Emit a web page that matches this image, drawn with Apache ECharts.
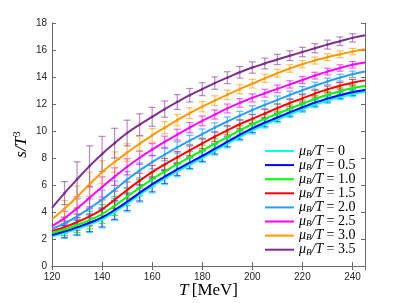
<!DOCTYPE html>
<html><head><meta charset="utf-8">
<script src="https://cdn.jsdelivr.net/npm/echarts@6/dist/echarts.min.js"></script>
<style>html,body{margin:0;padding:0;background:#fff}#c{width:403px;height:303px}</style>
</head><body><div id="c"></div>
<script>
// Temperature grid (MeV) for the fitted curves
const temps = [120,125,130,135,140,145,150,155,160,165,170,175,180,185,190,195,200,205,210,215,220,225,230,235,240,245];
// s/T^3 curves for mu_B/T = 0 ... 3.5
const mu00 = [2.25,2.50,2.80,3.13,3.52,4.07,4.67,5.33,5.96,6.53,7.06,7.56,8.06,8.59,9.10,9.62,10.10,10.52,10.90,11.28,11.65,12.00,12.30,12.56,12.78,12.95];
const mu05 = [2.30,2.55,2.86,3.20,3.60,4.15,4.76,5.42,6.05,6.62,7.15,7.65,8.15,8.68,9.20,9.72,10.20,10.62,11.00,11.38,11.75,12.10,12.40,12.65,12.87,13.04];
const mu10 = [2.45,2.70,3.04,3.40,3.85,4.45,5.13,5.80,6.42,7.00,7.55,8.05,8.55,9.05,9.55,10.05,10.50,10.90,11.28,11.65,12.02,12.37,12.68,12.95,13.18,13.33];
const mu15 = [2.60,2.88,3.25,3.68,4.20,4.90,5.63,6.32,6.95,7.52,8.05,8.57,9.08,9.58,10.05,10.50,10.90,11.30,11.70,12.07,12.42,12.77,13.08,13.35,13.58,13.75];
const mu20 = [2.75,3.15,3.68,4.28,4.92,5.65,6.40,7.08,7.70,8.25,8.78,9.28,9.77,10.25,10.70,11.13,11.55,11.93,12.30,12.67,13.02,13.35,13.67,13.95,14.20,14.40];
const mu25 = [2.95,3.55,4.27,5.05,5.85,6.62,7.35,8.02,8.62,9.20,9.73,10.25,10.75,11.22,11.67,12.08,12.45,12.80,13.12,13.45,13.78,14.10,14.40,14.67,14.90,15.07];
const mu30 = [3.46,4.25,5.13,6.05,6.95,7.70,8.40,9.05,9.68,10.25,10.80,11.32,11.80,12.25,12.68,13.10,13.50,13.90,14.28,14.63,14.95,15.22,15.47,15.68,15.88,16.05];
const mu35 = [4.30,5.40,6.42,7.40,8.30,9.10,9.85,10.47,11.05,11.62,12.15,12.65,13.10,13.55,13.95,14.35,14.70,15.00,15.30,15.58,15.85,16.13,16.40,16.65,16.90,17.10];
// Error bar temperatures and half-widths
const errT = [125,130,135,140,145,150,155,160,165,170,175,180,185,190,195,200,205,210,215,220,225,230,235,240];
const err00 = [0.45,0.55,0.65,0.70,0.70,0.65,0.60,0.55,0.50,0.45,0.42,0.40,0.38,0.36,0.34,0.32,0.30,0.29,0.28,0.27,0.26,0.25,0.25,0.24];
const err05 = [0.45,0.55,0.65,0.70,0.70,0.65,0.60,0.55,0.50,0.45,0.42,0.40,0.38,0.36,0.34,0.32,0.30,0.29,0.28,0.27,0.26,0.25,0.25,0.24];
const err10 = [0.45,0.55,0.65,0.70,0.70,0.65,0.60,0.55,0.50,0.45,0.42,0.40,0.38,0.36,0.34,0.32,0.30,0.29,0.28,0.27,0.26,0.25,0.25,0.24];
const err15 = [0.45,0.60,0.70,0.70,0.65,0.60,0.55,0.50,0.45,0.42,0.40,0.38,0.36,0.34,0.33,0.32,0.30,0.29,0.28,0.27,0.26,0.25,0.25,0.24];
const err20 = [0.45,0.60,0.70,0.70,0.65,0.60,0.55,0.50,0.45,0.42,0.40,0.38,0.36,0.34,0.33,0.32,0.30,0.29,0.28,0.27,0.26,0.25,0.25,0.24];
const err25 = [0.50,0.70,0.80,0.75,0.65,0.60,0.50,0.45,0.42,0.40,0.38,0.36,0.34,0.33,0.32,0.30,0.29,0.28,0.27,0.26,0.25,0.25,0.24,0.24];
const err30 = [0.60,0.80,0.90,0.85,0.75,0.65,0.55,0.50,0.45,0.42,0.40,0.38,0.36,0.35,0.33,0.32,0.30,0.29,0.28,0.27,0.26,0.25,0.25,0.24];
const err35 = [0.85,1.30,1.50,1.30,1.10,0.95,0.80,0.70,0.60,0.55,0.50,0.48,0.46,0.44,0.43,0.42,0.40,0.38,0.36,0.35,0.34,0.33,0.32,0.31];
const muLabels = ['0','0.5','1.0','1.5','2.0','2.5','3.0','3.5'];
const xTicks = [120,140,160,180,200,220,240];

const curves = [mu00,mu05,mu10,mu15,mu20,mu25,mu30,mu35];
const errs = [err00,err05,err10,err15,err20,err25,err30,err35];
const colors = ['#00FFFF','#0000FF','#00FF00','#FF0000','#2A9DF4','#FF00FF','#FF9900','#7E2F8E'];
const barColors = ['rgba(0,235,255,0.75)','rgba(40,40,255,0.7)','rgba(0,220,0,0.7)','rgba(255,0,0,0.65)','rgba(42,157,244,0.7)','rgba(255,0,255,0.6)','rgba(255,153,0,0.6)','rgba(126,47,142,0.55)'];
const widths = [3.4,2,2,2,2,2,2,2];

const series = [];
curves.forEach((c, k) => {
  const data = errT.map((t, i) => [t, c[temps.indexOf(t)], errs[k][i]]);
  series.push({
    type: 'custom', name: 'err' + k, z: 1, silent: true,
    data: data,
    renderItem: (params, api) => {
      const x = api.value(0), y = api.value(1), e = api.value(2);
      const top = api.coord([x, y + e]), bot = api.coord([x, y - e]), mid = api.coord([x, y]);
      const w = 3.5, col = barColors[k];
      return {type: 'group', children: [
        {type: 'line', shape: {x1: top[0], y1: top[1], x2: bot[0], y2: bot[1]}, style: {stroke: col, lineWidth: 1.2}},
        {type: 'line', shape: {x1: top[0] - w, y1: top[1], x2: top[0] + w, y2: top[1]}, style: {stroke: col, lineWidth: 1.2}},
        {type: 'line', shape: {x1: bot[0] - w, y1: bot[1], x2: bot[0] + w, y2: bot[1]}, style: {stroke: col, lineWidth: 1.2}},
        {type: 'circle', shape: {cx: mid[0], cy: mid[1], r: 1.3}, style: {fill: colors[k]}}
      ]};
    }
  });
});
curves.forEach((c, k) => {
  series.push({
    type: 'line', name: muLabels[k], z: 2, smooth: true, showSymbol: false, silent: true,
    data: temps.map((t, i) => [t, c[i]]),
    lineStyle: {color: colors[k], width: widths[k]},
    itemStyle: {color: colors[k]}
  });
});

const axisCol = '#6a6a6a';
const chart = echarts.init(document.getElementById('c'), null, {renderer: 'canvas'});
chart.setOption({
  animation: false,
  backgroundColor: '#fff',
  grid: {left: 52, right: 38, top: 23, bottom: 37, containLabel: false, outerBoundsMode: 'none'},
  xAxis: [
    {type: 'value', min: 120, max: 245, interval: 20, position: 'bottom',
     axisLine: {show: true, lineStyle: {color: axisCol, width: 1}},
     axisTick: {show: true, inside: true, length: 4, lineStyle: {color: axisCol}},
     axisLabel: {color: '#262626', fontSize: 10, fontFamily: 'Liberation Sans', margin: 6,
       formatter: v => (xTicks.indexOf(v) >= 0 ? String(v) : '')},
     splitLine: {show: false},
     name: '{i|T} {r|[MeV]}', nameLocation: 'middle', nameGap: 16, nameMoveOverlap: false,
     nameTextStyle: {rich: {
       i: {fontFamily: 'Liberation Serif', fontStyle: 'italic', fontSize: 17, color: '#000'},
       r: {fontFamily: 'Liberation Serif', fontSize: 17, color: '#000'}}}
    },
    {type: 'value', min: 120, max: 245, interval: 20, position: 'top',
     axisLine: {show: true, lineStyle: {color: axisCol, width: 1}},
     axisTick: {show: true, inside: true, length: 4, lineStyle: {color: axisCol}},
     axisLabel: {show: false}, splitLine: {show: false}}
  ],
  yAxis: [
    {type: 'value', min: 0, max: 18, interval: 2, position: 'left',
     axisLine: {show: true, lineStyle: {color: axisCol, width: 1}},
     axisTick: {show: true, inside: true, length: 4, lineStyle: {color: axisCol}},
     axisLabel: {color: '#262626', fontSize: 10, fontFamily: 'Liberation Sans', margin: 5},
     splitLine: {show: false},
     name: '{i|s/T}{s|3}', nameLocation: 'middle', nameGap: 21, nameRotate: 90, nameMoveOverlap: false,
     nameTextStyle: {rich: {
       i: {fontFamily: 'Liberation Serif', fontStyle: 'italic', fontSize: 17, color: '#000'},
       s: {fontFamily: 'Liberation Serif', fontSize: 11, color: '#000', verticalAlign: 'top', padding: [0,0,8,0]}}}
    },
    {type: 'value', min: 0, max: 18, interval: 2, position: 'right',
     axisLine: {show: true, lineStyle: {color: axisCol, width: 1}},
     axisTick: {show: true, inside: true, length: 4, lineStyle: {color: axisCol}},
     axisLabel: {show: false}, splitLine: {show: false}}
  ],
  legend: {
    data: muLabels, orient: 'vertical', left: 265, top: 144, padding: 0,
    itemWidth: 29, itemHeight: 2, itemGap: 0.1, icon: 'rect',
    selectedMode: false,
    formatter: name => '{i|μ}{b|B}{i|/T} {r|= ' + name + '}',
    textStyle: {color: '#000', lineHeight: 14, rich: {
      i: {fontFamily: 'Liberation Serif', fontStyle: 'italic', fontSize: 14, lineHeight: 14},
      b: {fontFamily: 'Liberation Serif', fontStyle: 'italic', fontSize: 9, lineHeight: 14, padding: [5,0,0,0]},
      r: {fontFamily: 'Liberation Serif', fontSize: 14, lineHeight: 14}}}
  },
  series: series
});
</script></body></html>
